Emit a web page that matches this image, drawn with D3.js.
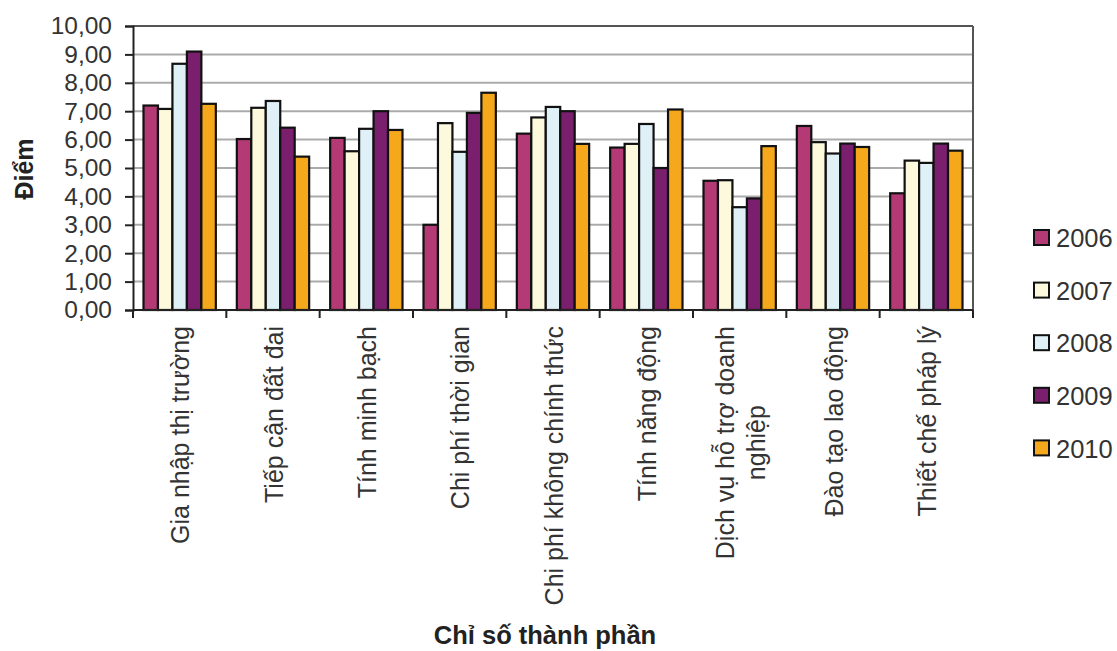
<!DOCTYPE html>
<html>
<head>
<meta charset="utf-8">
<script src="https://cdn.jsdelivr.net/npm/d3@7"></script>
<style>
  html, body { margin: 0; padding: 0; background: #fff; }
  svg { display: block; font-family: "Liberation Sans", Arial, sans-serif; }
</style>
</head>
<body>
<svg id="chart" width="1117" height="651"></svg>
<script>
// Component indices (PCI) by year
const categories = [
  "Gia nhập thị trường",
  "Tiếp cận đất đai",
  "Tính minh bạch",
  "Chi phí thời gian",
  "Chi phí không chính thức",
  "Tính năng động",
  "Dịch vụ hỗ trợ doanh\nnghiệp",
  "Đào tạo lao động",
  "Thiết chế pháp lý"
];
const years = ["2006", "2007", "2008", "2009", "2010"];
const values2006 = [7.20, 6.02, 6.06, 3.00, 6.21, 5.72, 4.55, 6.48, 4.11];
const values2007 = [7.08, 7.12, 5.59, 6.58, 6.78, 5.85, 4.57, 5.91, 5.26];
const values2008 = [8.67, 7.36, 6.38, 5.57, 7.15, 6.55, 3.62, 5.51, 5.18];
const values2009 = [9.10, 6.42, 7.00, 6.94, 7.00, 5.00, 3.93, 5.86, 5.86];
const values2010 = [7.26, 5.40, 6.34, 7.65, 5.85, 7.06, 5.77, 5.74, 5.61];
const yTicks = [0, 1, 2, 3, 4, 5, 6, 7, 8, 9, 10];
const colors = ["#b33a75", "#fcf9dc", "#dff0f7", "#7a1f6e", "#f6a81c"];

const series = [values2006, values2007, values2008, values2009, values2010];

const svg = d3.select("#chart");
const margin = { left: 133, top: 26, right: 144, bottom: 341 };
const W = 1117, H = 651;
const plotW = W - margin.left - margin.right;   // 840
const plotH = H - margin.top - margin.bottom;   // 284

const g = svg.append("g").attr("transform", `translate(${margin.left},${margin.top})`);

const x0 = d3.scaleBand().domain(categories).range([0, plotW]).paddingInner(0.225).paddingOuter(0.1125);
const x1 = d3.scaleBand().domain(years).range([0, x0.bandwidth()]);
const y = d3.scaleLinear().domain([0, 10]).range([plotH, 0]);

const fmt = v => d3.format(".2f")(v).replace(".", ",");

// horizontal gridlines
g.append("g").selectAll("line")
  .data(yTicks.filter(t => t > 0 && t < 10))
  .join("line")
  .attr("x1", 0).attr("x2", plotW)
  .attr("y1", d => y(d)).attr("y2", d => y(d))
  .attr("stroke", "#ababab").attr("stroke-width", 2);

// frame: top and right edges
g.append("line").attr("x1", 0).attr("x2", plotW).attr("y1", 0).attr("y2", 0)
  .attr("stroke", "#555").attr("stroke-width", 2);
g.append("line").attr("x1", plotW).attr("x2", plotW).attr("y1", 0).attr("y2", plotH)
  .attr("stroke", "#555").attr("stroke-width", 2);

// bars
const groups = g.append("g").selectAll("g")
  .data(categories.map((c, i) => ({ c, i })))
  .join("g")
  .attr("transform", d => `translate(${x0(d.c)},0)`);

groups.selectAll("rect")
  .data(d => years.map((yr, k) => ({ yr, k, v: series[k][d.i] })))
  .join("rect")
  .attr("x", d => x1(d.yr))
  .attr("y", d => y(d.v))
  .attr("width", x1.bandwidth())
  .attr("height", d => plotH - y(d.v))
  .attr("fill", d => colors[d.k])
  .attr("stroke", "#111")
  .attr("stroke-width", 2.2);

// y axis
const yAxis = g.append("g")
  .call(d3.axisLeft(y).tickValues(yTicks).tickFormat(fmt).tickSize(8).tickPadding(13));
yAxis.select(".domain").attr("stroke", "#222").attr("stroke-width", 2);
yAxis.selectAll(".tick line").attr("stroke", "#222").attr("stroke-width", 2);
yAxis.selectAll(".tick text").attr("font-size", 24.5).attr("fill", "#333")
  .attr("font-family", "'Liberation Sans', Arial, sans-serif");

// x axis with ticks at category boundaries
const boundaries = d3.range(categories.length + 1).map(i => i * plotW / categories.length);
const xb = g.append("g").attr("transform", `translate(0,${plotH})`);
xb.append("line").attr("x1", 0).attr("x2", plotW).attr("y1", 0).attr("y2", 0)
  .attr("stroke", "#222").attr("stroke-width", 2);
xb.selectAll("line.tk").data(boundaries).join("line").attr("class", "tk")
  .attr("x1", d => d).attr("x2", d => d).attr("y1", 0).attr("y2", 8)
  .attr("stroke", "#222").attr("stroke-width", 2);

// rotated category labels
const lineH = 31.5;
xb.selectAll("text.cat").data(categories).join("text").attr("class", "cat")
  .attr("transform", d => `translate(${x0(d) + x0.bandwidth() / 2 + 1},16) rotate(-90)`)
  .attr("text-anchor", "end")
  .attr("font-size", 25)
  .attr("fill", "#333")
  .each(function (d) {
    const lines = d.split("\n");
    const t = d3.select(this);
    lines.forEach((ln, j) => {
      const off = (j - (lines.length - 1) / 2) * lineH;
      t.append("tspan")
        .attr("x", 0)
        .attr("y", off)
        .attr("dy", "0.35em")
        .attr("text-anchor", lines.length > 1 ? "middle" : "end")
        .text(ln);
    });
  });

// centre the wrapped label as a block
xb.selectAll("text.cat").filter(d => d.includes("\n")).each(function () {
  const t = d3.select(this);
  const widths = t.selectAll("tspan").nodes().map(n => n.getComputedTextLength());
  t.selectAll("tspan").attr("x", -d3.max(widths) / 2);
});

// axis titles
svg.append("text")
  .attr("transform", `translate(33,${margin.top + plotH / 2 + 1}) rotate(-90)`)
  .attr("text-anchor", "middle")
  .attr("font-size", 25).attr("font-weight", "bold").attr("fill", "#222")
  .text("Điểm");

svg.append("text")
  .attr("x", 545).attr("y", 644)
  .attr("text-anchor", "middle")
  .attr("font-size", 25.5).attr("font-weight", "bold").attr("fill", "#222")
  .text("Chỉ số thành phần");

// legend
const legend = svg.append("g").attr("transform", "translate(1034,230)");
const items = legend.selectAll("g").data(years).join("g")
  .attr("transform", (d, i) => `translate(0,${i * 52.6})`);
items.append("rect")
  .attr("x", 0).attr("y", 0).attr("width", 15).attr("height", 15)
  .attr("fill", (d, i) => colors[i]).attr("stroke", "#111").attr("stroke-width", 2);
items.append("text")
  .attr("x", 22).attr("y", 8).attr("dy", "0.36em")
  .attr("font-size", 25.5).attr("fill", "#333")
  .text(d => d);
</script>
</body>
</html>
